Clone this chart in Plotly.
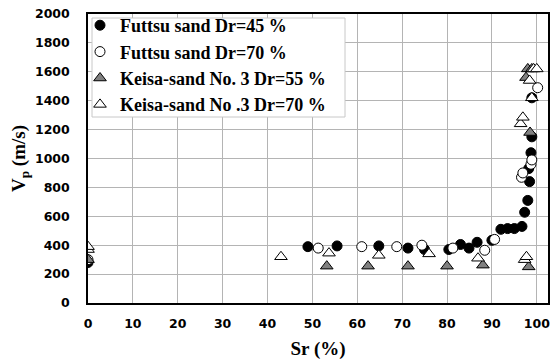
import plotly.graph_objects as go

# Futtsu sand Dr=45 % (filled circles)
f45_sr = [0, 49, 55.5, 64.8, 71.3, 75, 80.4, 83, 84.9, 86.7, 90, 92, 93.5, 95, 96.7, 97.3, 98, 98.4, 98.2, 98.7, 98.9, 98.9]
f45_vp = [280, 390, 395, 395, 380, 370, 370, 405, 380, 420, 434, 510, 515, 515, 530, 628, 710, 840, 930, 1040, 1150, 1420]

# Futtsu sand Dr=70 % (open circles)
f70_sr = [0, 51.3, 61, 68.8, 74.4, 81.3, 88.4, 90.6, 96.6, 96.9, 98.7, 98.9, 100.2]
f70_vp = [300, 380, 390, 390, 400, 380, 365, 440, 870, 900, 960, 990, 1490]

# Keisa-sand No. 3 Dr=55 % (gray triangles)
k55_sr = [0, 53.2, 62.4, 71.3, 80, 88, 98.2, 98.5, 97.6, 98, 98.9]
k55_vp = [300, 255, 255, 255, 255, 262, 250, 1180, 1560, 1620, 1620]

# Keisa-sand No .3 Dr=70 % (open triangles)
k70_sr = [0, 0, 43, 53.7, 64.8, 76, 86.9, 97.3, 97.7, 96.4, 96.9, 98.9, 98.4, 99.3, 100]
k70_vp = [370, 390, 320, 345, 330, 340, 310, 300, 320, 1240, 1285, 1420, 1540, 1620, 1620]

x_ticks = [0, 10, 20, 30, 40, 50, 60, 70, 80, 90, 100]
y_ticks = [0, 200, 400, 600, 800, 1000, 1200, 1400, 1600, 1800, 2000]

fig = go.Figure()
ms = 10
fig.add_trace(go.Scatter(x=f45_sr, y=f45_vp, mode="markers", name="<b>Futtsu sand Dr=45 %</b>",
                         marker=dict(symbol="circle", size=ms, color="black", line=dict(color="black", width=1))))
fig.add_trace(go.Scatter(x=f70_sr, y=f70_vp, mode="markers", name="<b>Futtsu sand Dr=70 %</b>",
                         marker=dict(symbol="circle", size=ms, color="white", line=dict(color="black", width=1))))
fig.add_trace(go.Scatter(x=k55_sr, y=k55_vp, mode="markers", name="<b>Keisa-sand No. 3 Dr=55 %</b>",
                         marker=dict(symbol="triangle-up", size=ms+1, color="#808080", line=dict(color="black", width=1))))
fig.add_trace(go.Scatter(x=k70_sr, y=k70_vp, mode="markers", name="<b>Keisa-sand No .3 Dr=70 %</b>",
                         marker=dict(symbol="triangle-up", size=ms+1, color="white", line=dict(color="black", width=1))))

serif = "Liberation Serif"
tickfont = dict(family="DejaVu Sans", size=12.5, color="black")
titlefont = dict(family=serif, size=19, color="black")

# plot area in pixels: left 88, right 548, top 14, bottom 303
def px_x(p):
    return (p - 88) / 460.0

def px_y(p):
    return (303 - p) / 289.0

fig.add_shape(type="rect", xref="paper", yref="paper",
              x0=px_x(92), x1=px_x(345), y0=px_y(117), y1=px_y(18),
              fillcolor="white", line=dict(color="#c8c8c8", width=1), layer="above")

fig.update_layout(
    width=558, height=363,
    margin=dict(l=88, r=10, t=14, b=60, autoexpand=False),
    paper_bgcolor="white", plot_bgcolor="white",
    showlegend=True,
    legend=dict(x=px_x(80), y=px_y(7), xanchor="left", yanchor="top",
                bgcolor="rgba(0,0,0,0)", borderwidth=0,
                font=dict(family=serif, size=18, color="black"),
                itemwidth=30, tracegroupgap=0),
    xaxis=dict(range=[0, 102.5], tickvals=x_ticks, ticktext=["<b>%d</b>" % v for v in x_ticks],
               showgrid=True, gridcolor="#b4b4b4", gridwidth=1, automargin=False,
               showline=True, linecolor="black", linewidth=1.5, mirror=True,
               ticks="", tickfont=tickfont, ticklabelstandoff=8, zeroline=False,
               title=dict(text="<b>Sr (%)</b>", font=titlefont, standoff=12)),
    yaxis=dict(range=[0, 2000], tickvals=y_ticks, ticktext=["<b>%d</b>" % v for v in y_ticks],
               showgrid=True, gridcolor="#b4b4b4", gridwidth=1, automargin=False,
               showline=True, linecolor="black", linewidth=1.5, mirror=True,
               ticks="", tickfont=tickfont, ticklabelstandoff=14, zeroline=False,
               title=dict(text="<b>V<sub>p</sub> (m/s)</b>", font=titlefont, standoff=4)),
)

fig.write_html("out.html")
